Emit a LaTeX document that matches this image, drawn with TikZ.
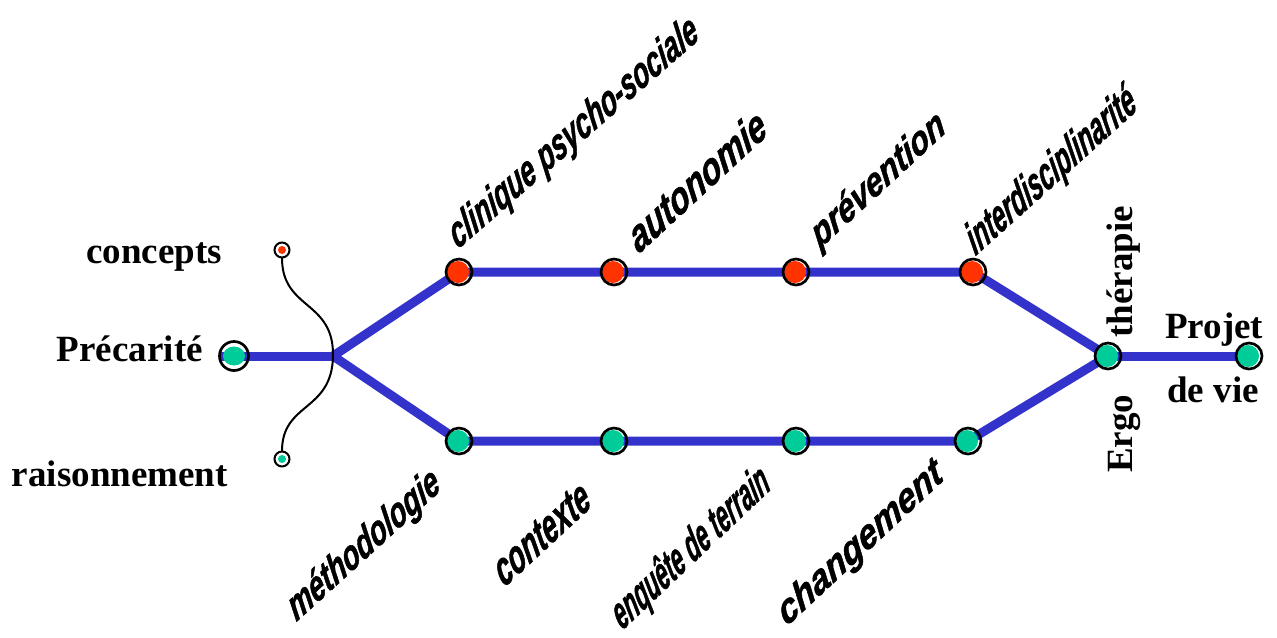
\documentclass[tikz,border=0pt]{standalone}
\usepackage{fontspec}
\setmainfont{Liberation Serif}
\newfontfamily\themefont[FakeBold=1.5]{Liberation Sans Bold Italic}
\usetikzlibrary{positioning, calc}

\definecolor{lineblue}{RGB}{51,51,204}
\definecolor{stopred}{RGB}{255,51,0}
\definecolor{stopgreen}{RGB}{0,204,153}

\begin{document}
\begin{tikzpicture}[x=0.75pt,y=-0.75pt,
        track/.style={lineblue, line width=6.75pt},
        ring/.style={black, line width=2pt},
        term/.style={font=\fontsize{27.75}{30}\selectfont\bfseries, inner sep=0pt},
        theme/.style={inner sep=0pt}
    ]
        \useasboundingbox (0,0) rectangle (1277,637);

        \coordinate (start) at (219,356);
        \coordinate (J) at (333,356);
        \coordinate (P) at (234,356);
        \coordinate (T1) at (459,272);
        \coordinate (T2) at (614,272);
        \coordinate (T3) at (796,272);
        \coordinate (T4) at (973,272);
        \coordinate (B1) at (459,441);
        \coordinate (B2) at (614,441);
        \coordinate (B3) at (796,441);
        \coordinate (B4) at (968,441);
        \coordinate (E) at (1108,356);
        \coordinate (V) at (1249,356);
        \coordinate (C) at (282,250);
        \coordinate (R) at (282,459);

        % draw the tracks
        \draw[track] (start) -- (J);
        \draw[track, line join=round] (J) -- (T1) -- (T2) -- (T3) -- (T4) -- (E);
        \draw[track, line join=round] (J) -- (B1) -- (B2) -- (B3) -- (B4) -- (E);
        \draw[track] (E) -- (V);

        % curve between concepts and raisonnement
        \draw[black, line width=1.5pt] ($(C)+(0,8)$) .. controls (282,310) and (334,300) .. (J)
            .. controls (332,412) and (282,402) .. ($(R)+(0,-8)$);

        % stops
        \foreach \point in {T1,T2,T3,T4}
        {
            \fill[stopred] ($(\point)+(-1,0)$) circle (11);
            \draw[ring] (\point) circle (13);
        }
        \foreach \point in {B1,B2,B3,B4,E,V}
        {
            \fill[stopgreen] ($(\point)+(-1,0)$) circle (11);
            \draw[ring] (\point) circle (13);
        }
        \fill[stopgreen] (P) ellipse (11 and 9.5);
        \draw[ring] (P) circle (14.5);

        \fill[stopred] (C) circle (4);
        \draw[black, line width=1.5pt] (C) circle (7.5);
        \fill[stopgreen] (R) circle (4);
        \draw[black, line width=1.5pt] (R) circle (7.5);

        % serif labels
        \node[term, anchor=base east] (concepts) at (222,263) {concepts};
        \node[term, anchor=base east] (precarite) at (203,361) {Précarité};
        \node[term, anchor=base east] (raisonnement) at (228,486) {raisonnement};
        \node[term, anchor=base west] (projet) at (1165,338) {Projet};
        \node[term, anchor=base west] (devie) at (1167,402) {de vie};
        \node[term, anchor=base west, rotate=90] (therapie) at (1132,338) {thérapie};
        \node[term, anchor=base west, rotate=90] (ergo) at (1132,473) {Ergo};

        % slanted labels
        \foreach \name/\x/\y/\ang/\sx/\fs/\txt in {
            clinique/574.5/134/41/0.70/30.6/clinique psycho-sociale,
            autonomie/697/180/42.7/0.84/31.4/autonomie,
            prevention/879/181/42.7/0.91/28/prévention,
            inter/1052/172/42/0.62/31.9/interdisciplinarité,
            methodologie/364.5/546/42.3/0.77/29.3/méthodologie,
            contexte/542/533.5/42.7/0.67/33/contexte,
            enquete/691.5/549/43.5/0.56/32/enquête de terrain,
            changement/861/544/43/0.97/28.4/changement}
        {
            \node[theme, rotate=\ang, xslant=0.3, xscale=\sx, font=\themefont\fontsize{\fs}{\fs}\selectfont] (\name) at (\x,\y) {\txt};
        }
    \end{tikzpicture}
\end{document}
